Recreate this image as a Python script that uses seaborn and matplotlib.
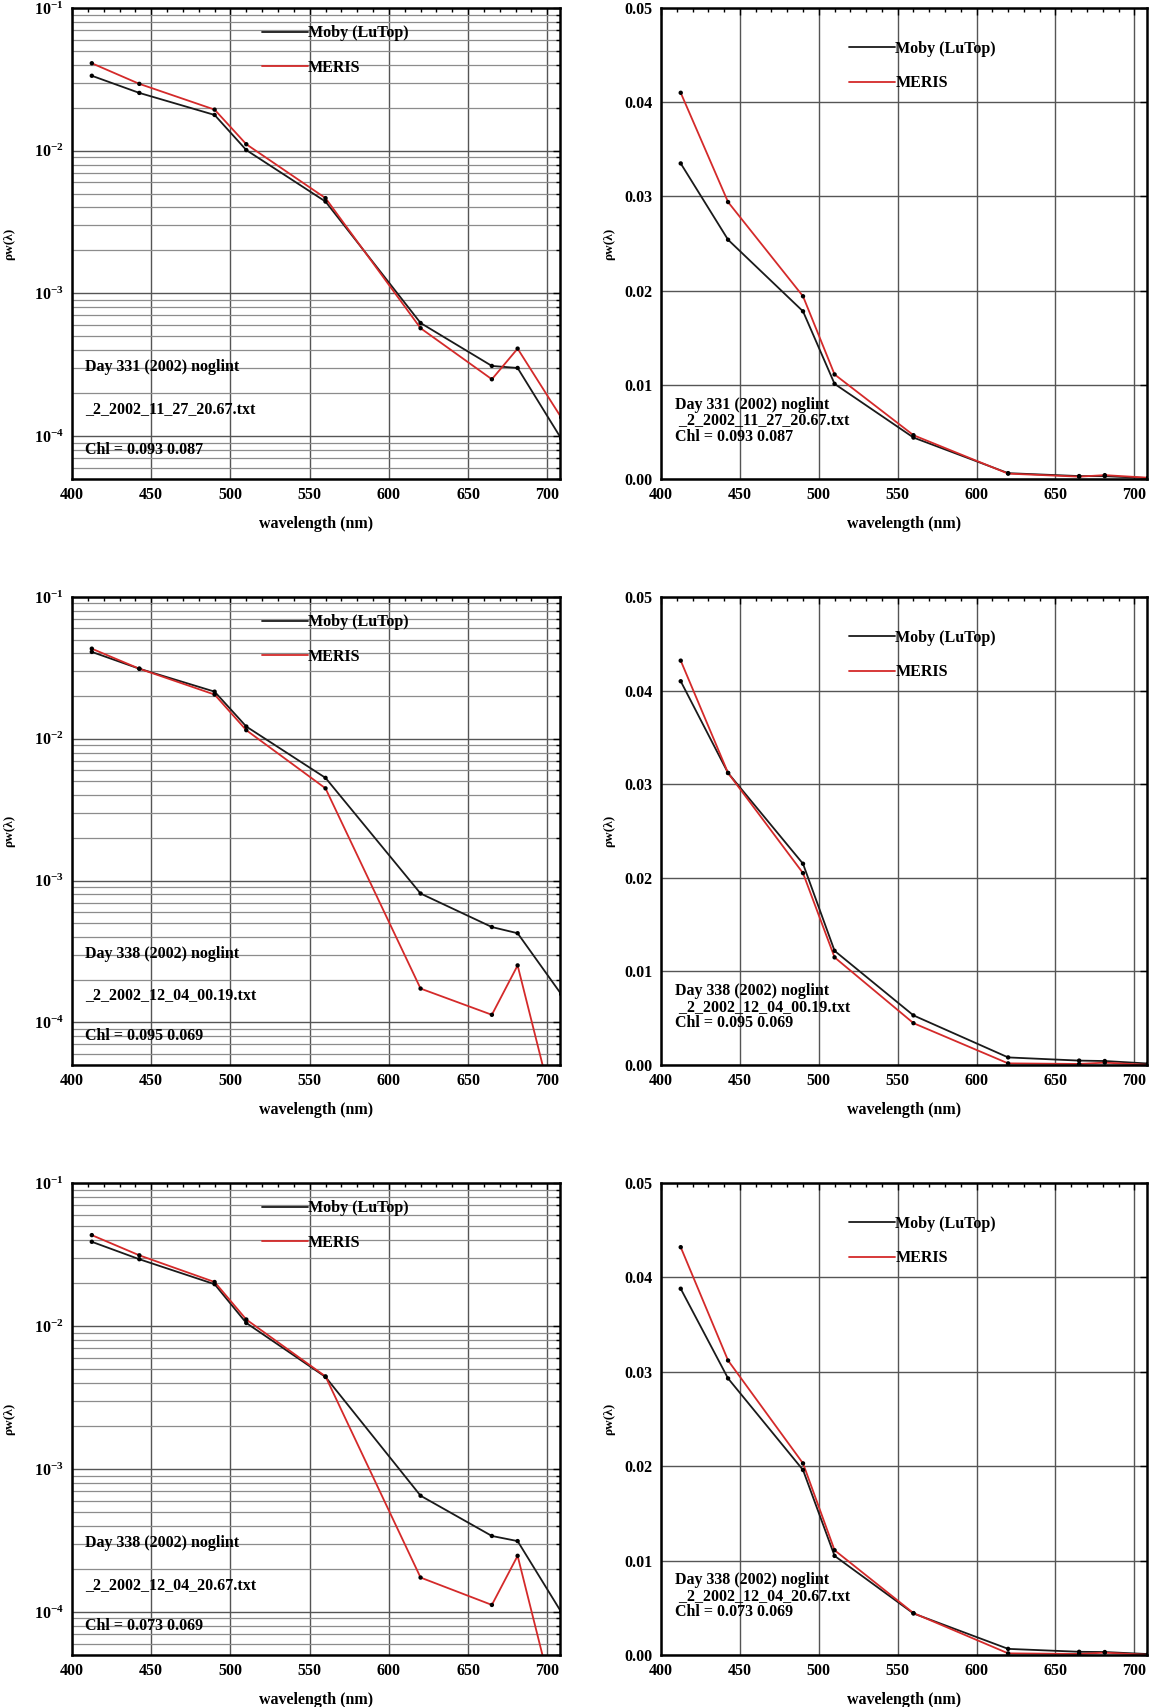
import matplotlib
matplotlib.use("Agg")
import matplotlib.pyplot as plt
import numpy as np
import pandas as pd
import seaborn as sns
from matplotlib.ticker import MultipleLocator, LogLocator, NullFormatter, FormatStrFormatter

# MERIS band centres (nm)
wavelength = [412.5, 442.5, 490.0, 510.0, 560.0, 620.0, 665.0, 681.25, 708.75]

# Water-leaving reflectance, day 331 (2002-11-27 20.67)
moby_d331 = [0.0335, 0.0254, 0.0178, 0.0101, 0.00440, 6.2e-4, 3.1e-4, 3.0e-4, 9.6e-5]
meris_d331 = [0.0410, 0.0294, 0.0194, 0.0111, 0.00465, 5.7e-4, 2.5e-4, 4.1e-4, 1.35e-4]

# Day 338 (2002-12-04 00.19)
moby_d338a = [0.0410, 0.0312, 0.0215, 0.0122, 0.00530, 8.1e-4, 4.7e-4, 4.25e-4, 1.58e-4]
meris_d338a = [0.0432, 0.0312, 0.0205, 0.0115, 0.00447, 1.73e-4, 1.13e-4, 2.52e-4, 1.5e-5]

# Day 338 (2002-12-04 20.67)
moby_d338b = [0.0388, 0.0293, 0.0196, 0.0105, 0.00440, 6.5e-4, 3.4e-4, 3.13e-4, 1.0e-4]
meris_d338b = [0.0432, 0.0312, 0.0203, 0.0111, 0.00444, 1.74e-4, 1.12e-4, 2.47e-4, 1.5e-5]

series_labels = ["Moby (LuTop)", "MERIS"]
series_colors = {"Moby (LuTop)": "#1a1a1a", "MERIS": "#d42a2a"}

captions = [
    ("Day 331 (2002) noglint", "_2_2002_11_27_20.67.txt", "Chl = 0.093 0.087"),
    ("Day 338 (2002) noglint", "_2_2002_12_04_00.19.txt", "Chl = 0.095 0.069"),
    ("Day 338 (2002) noglint", "_2_2002_12_04_20.67.txt", "Chl = 0.073 0.069"),
]

runs = [(moby_d331, meris_d331), (moby_d338a, meris_d338a), (moby_d338b, meris_d338b)]

sns.set_theme(style="white")
plt.rcParams["font.family"] = ["Liberation Serif", "DejaVu Serif"]
plt.rcParams["font.weight"] = "bold"
plt.rcParams["axes.labelweight"] = "bold"
plt.rcParams["mathtext.fontset"] = "stix"
plt.rcParams["mathtext.default"] = "bf"
plt.rcParams["text.color"] = "black"
plt.rcParams["axes.labelcolor"] = "black"
plt.rcParams["xtick.color"] = "black"
plt.rcParams["ytick.color"] = "black"

fig = plt.figure(figsize=(11.51, 17.07), dpi=100)

W, H = 1151.0, 1707.0
col_px = [(72, 560), (661, 1147)]
row_px = [(8, 479), (597, 1065), (1183, 1655)]


def make_axes(col, row):
    x0, x1 = col_px[col]
    y0, y1 = row_px[row]
    return fig.add_axes([x0 / W, 1 - y1 / H, (x1 - x0) / W, (y1 - y0) / H])


def build_frame(moby, meris):
    return pd.DataFrame({
        "wavelength": wavelength * 2,
        "rho": list(moby) + list(meris),
        "source": [series_labels[0]] * len(moby) + [series_labels[1]] * len(meris),
    })


def style_axes(ax, log):
    ax.set_xlim(400, 708)
    ax.xaxis.set_major_locator(MultipleLocator(50))
    ax.xaxis.set_minor_locator(MultipleLocator(10))
    if log:
        ax.set_yscale("log")
        ax.set_ylim(5e-5, 1e-1)
        ax.yaxis.set_major_locator(LogLocator(base=10, numticks=10))
        ax.yaxis.set_minor_locator(LogLocator(base=10, subs=np.arange(2, 10), numticks=20))
        ax.yaxis.set_minor_formatter(NullFormatter())
        ax.yaxis.grid(True, which="major", color="#555555", lw=1.0)
        ax.yaxis.grid(True, which="minor", color="#8c8c8c", lw=0.9)
    else:
        ax.set_ylim(0, 0.05)
        ax.yaxis.set_major_locator(MultipleLocator(0.01))
        ax.yaxis.set_major_formatter(FormatStrFormatter("%.2f"))
        ax.yaxis.grid(True, which="major", color="#555555", lw=1.0)
    ax.xaxis.grid(True, which="major", color="#555555", lw=1.0)
    ax.set_axisbelow(True)
    ax.tick_params(which="both", direction="in", top=True, right=True,
                   labelsize=11.5, width=1.0)
    ax.tick_params(which="major", length=5, pad=6)
    ax.tick_params(which="minor", length=3)
    plt.setp(ax.get_xticklabels() + ax.get_yticklabels(), fontweight="bold")
    for s in ax.spines.values():
        s.set_linewidth(1.8)
        s.set_color("black")
    ax.set_xlabel("wavelength (nm)", fontsize=11.5, labelpad=9, fontweight="bold")
    ax.set_ylabel("ρw(λ)", fontsize=9.5, fontweight="bold")


for row, (moby, meris) in enumerate(runs):
    df = build_frame(moby, meris)
    for col, log in enumerate([True, False]):
        ax = make_axes(col, row)
        sns.lineplot(data=df, x="wavelength", y="rho", hue="source",
                     hue_order=series_labels, palette=series_colors,
                     linewidth=1.3, sort=False, ax=ax)
        sns.scatterplot(data=df, x="wavelength", y="rho", color="black",
                        s=10, marker="o", edgecolor="none", legend=False,
                        ax=ax, zorder=4)
        style_axes(ax, log)
        handles, labels = ax.get_legend_handles_labels()
        if log:
            anchor = (0.389, 0.963)
            ax.yaxis.set_label_coords(-0.117, 0.5)
        else:
            anchor = (0.387, 0.930)
            ax.yaxis.set_label_coords(-0.095, 0.5)
        ax.legend(handles[:2], labels[:2], loc="upper left", bbox_to_anchor=anchor,
                  frameon=False, prop={"size": 11.5, "weight": "bold"},
                  handlelength=2.9, handletextpad=0.0, labelspacing=1.15,
                  borderpad=0, borderaxespad=0)
        day, fname, chl = captions[row]
        if log:
            for txt, yf in zip((day, fname, chl), (0.238, 0.149, 0.062)):
                ax.text(0.027, yf, txt, transform=ax.transAxes, fontsize=11.5,
                        ha="left", va="center")
        else:
            ax.text(0.029, 0.175, day + "\n " + fname + "\n" + chl,
                    transform=ax.transAxes, fontsize=11.5, ha="left",
                    va="top", linespacing=1.0)

fig.savefig("out.png", dpi=100)
